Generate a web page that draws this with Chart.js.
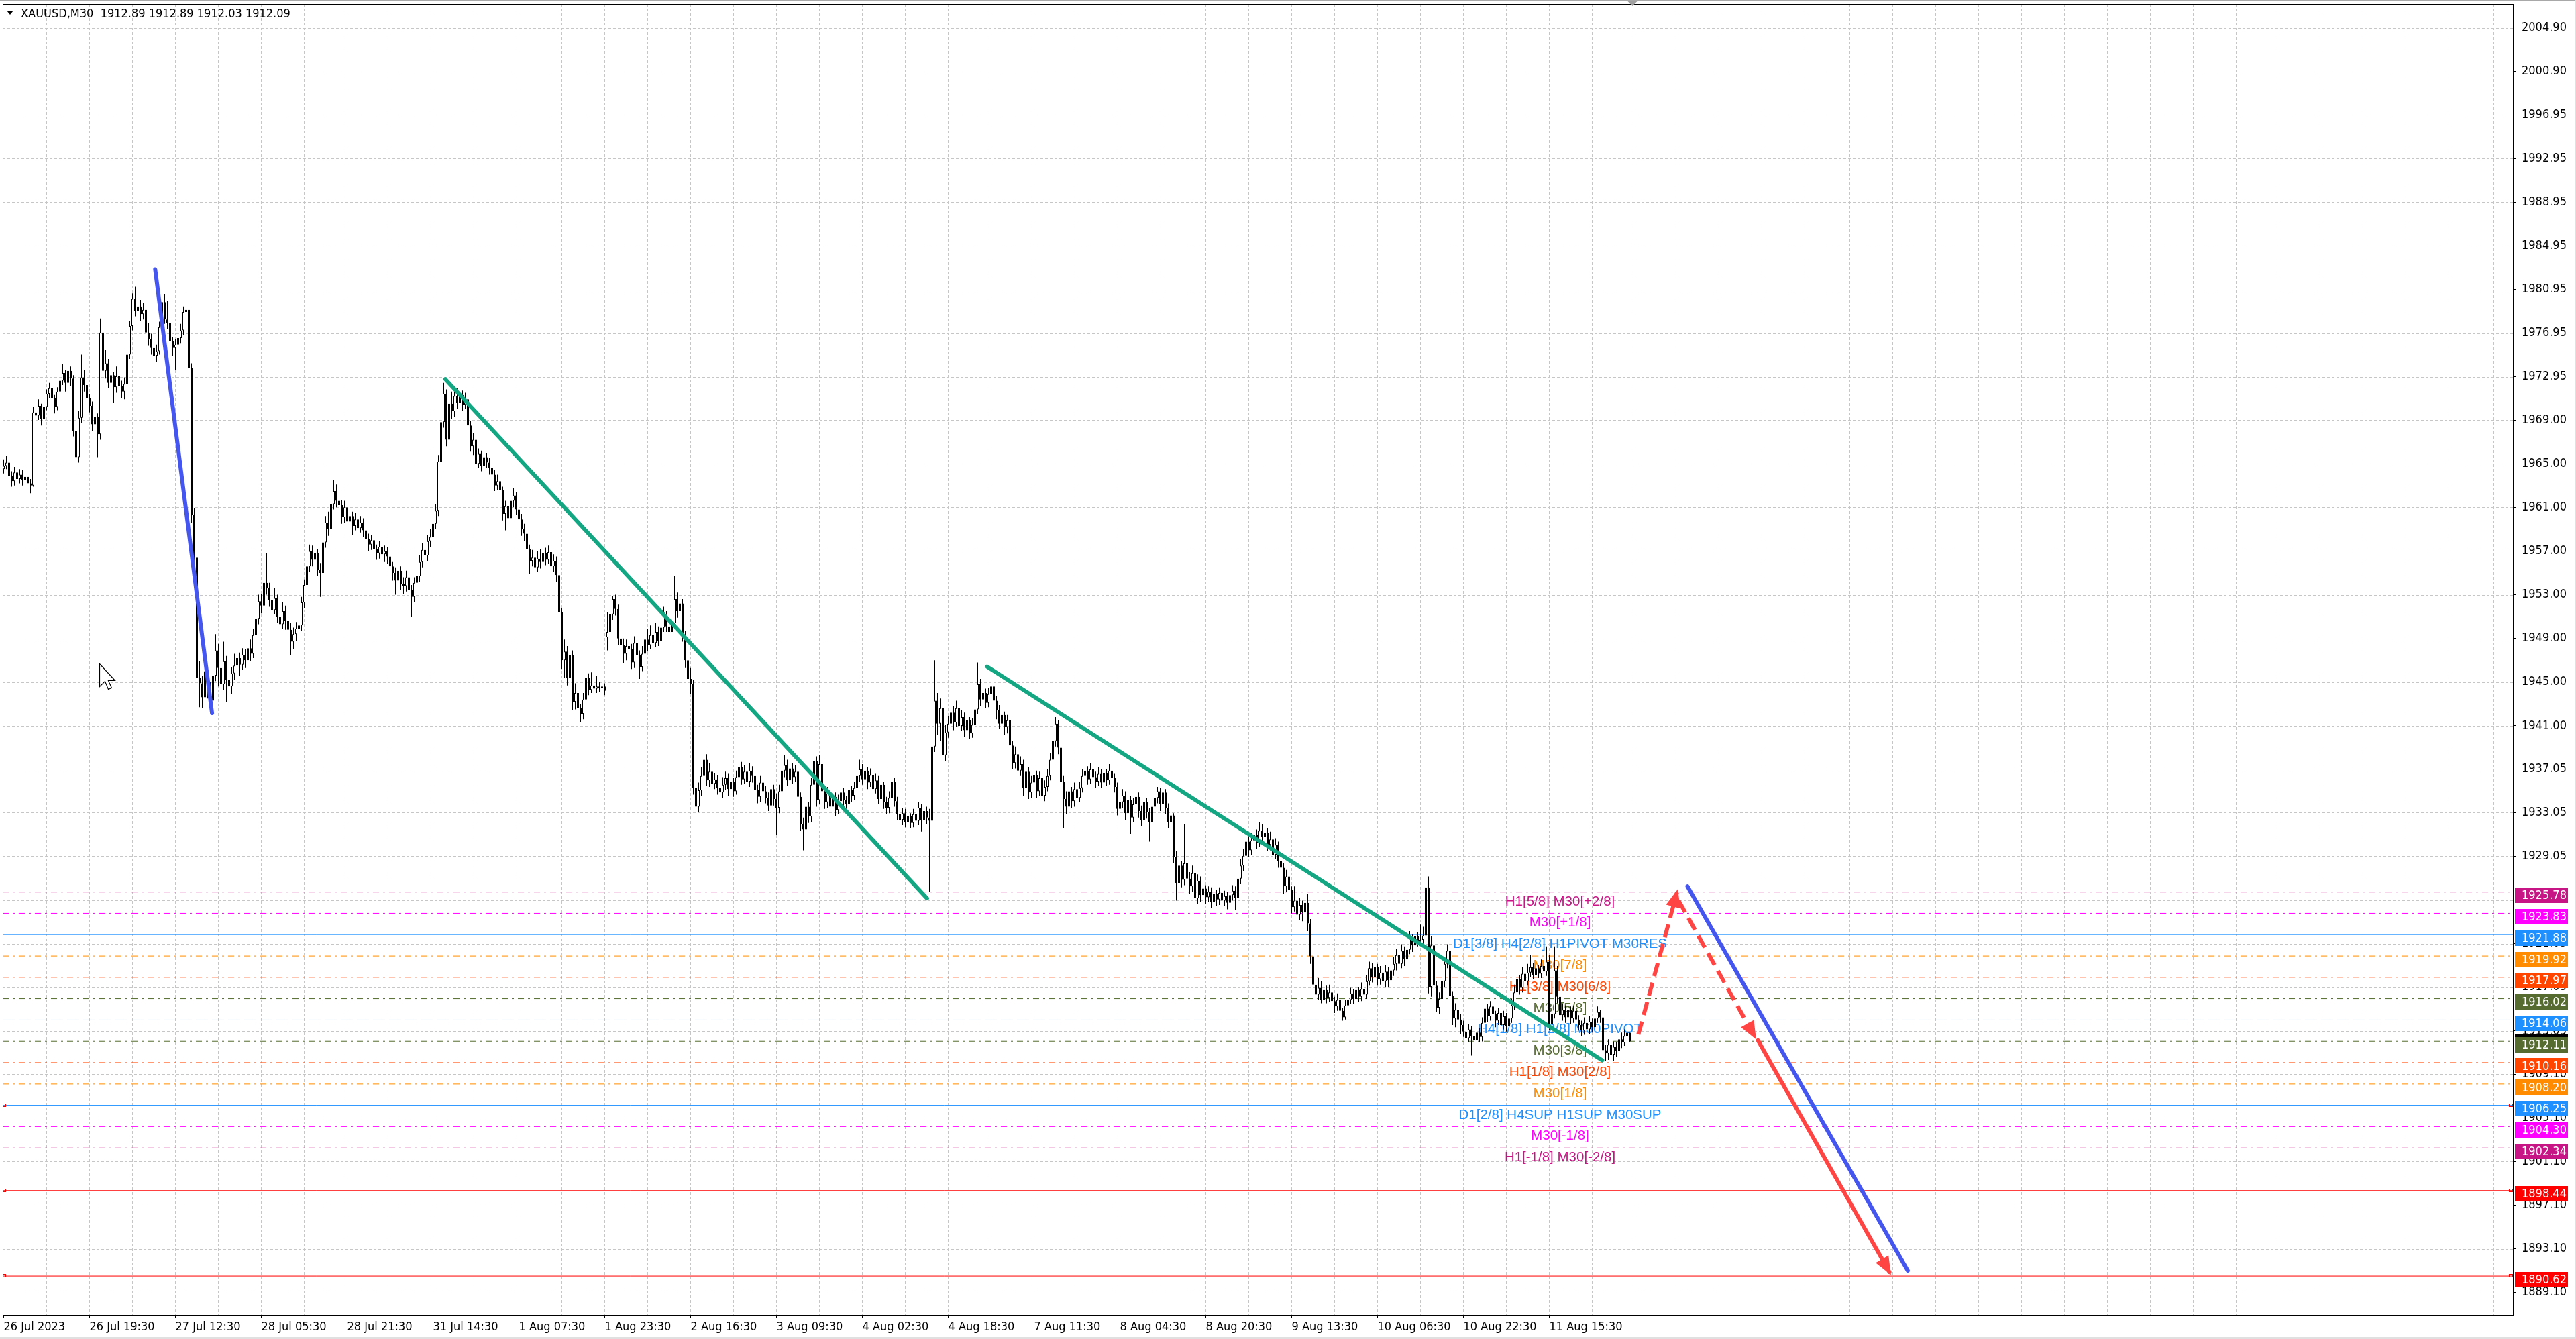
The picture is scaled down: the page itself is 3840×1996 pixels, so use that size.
<!DOCTYPE html>
<html>
<head>
<meta charset="utf-8">
<title>XAUUSD,M30</title>
<script src="https://cdn.jsdelivr.net/npm/chart.js@4.4.1/dist/chart.umd.min.js"></script>
<style>
html,body{margin:0;padding:0;background:#fff;overflow:hidden}
#wrap{position:relative;width:3840px;height:1996px}
canvas{display:block}
</style>
</head>
<body>
<div id="wrap"><canvas id="c" width="3840" height="1996" style="width:3840px;height:1996px"></canvas></div>
<script>
// ---------------- DATA ----------------
const headerText = "XAUUSD,M30  1912.89 1912.89 1912.03 1912.09";
const lastBid = 1912.09;

const timeLabels = ["26 Jul 2023","26 Jul 19:30","27 Jul 12:30","28 Jul 05:30","28 Jul 21:30","31 Jul 14:30","1 Aug 07:30","1 Aug 23:30","2 Aug 16:30","3 Aug 09:30","4 Aug 02:30","4 Aug 18:30","7 Aug 11:30","8 Aug 04:30","8 Aug 20:30","9 Aug 13:30","10 Aug 06:30","10 Aug 22:30","11 Aug 15:30"];
const timeLabelBars = [0,32,64,96,128,160,192,224,256,288,320,352,384,416,448,480,512,544,576];

const priceTicks = [2004.90,2000.90,1996.95,1992.95,1988.95,1984.95,1980.95,1976.95,1972.95,1969.00,1965.00,1961.00,1957.00,1953.00,1949.00,1945.00,1941.00,1937.05,1933.05,1929.05,1925.05,1921.05,1917.05,1913.05,1909.10,1905.10,1901.10,1897.10,1893.10,1889.10];

const opens = [
1964.5,1964.8,1965.1,1963.9,1963.4,1964.2,1963.6,1964.0,1963.5,1963.8,
1963.2,1963.0,1969.7,1969.4,1970.3,1969.1,1970.2,1971.4,1971.9,1971.0,
1970.2,1971.6,1972.6,1973.3,1972.4,1973.5,1972.8,1968.0,1965.6,1969.2,
1972.9,1972.2,1971.0,1970.3,1968.6,1969.3,1967.7,1977.0,1973.5,1974.2,
1972.4,1973.1,1972.0,1973.0,1972.1,1971.6,1972.3,1975.0,1977.6,1980.1,
1979.0,1979.4,1978.7,1979.1,1977.0,1976.4,1975.6,1974.9,1975.3,1977.5,
1979.8,1978.2,1977.9,1976.2,1975.6,1975.9,1976.5,1977.2,1978.9,1979.1,
1973.8,1960.3,1956.4,1945.4,1944.9,1943.6,1946.0,1944.2,1943.3,1945.6,
1947.9,1946.3,1944.8,1946.9,1945.2,1944.6,1945.8,1946.5,1947.2,1946.6,
1947.5,1947.0,1948.1,1947.6,1949.3,1950.8,1952.4,1952.0,1954.1,1953.6,
1952.5,1951.6,1952.7,1951.0,1950.3,1951.5,1950.6,1949.8,1948.7,1949.4,
1949.9,1950.2,1952.3,1953.9,1955.6,1957.0,1956.2,1956.8,1955.3,1955.0,
1957.8,1959.6,1959.0,1961.3,1962.5,1961.6,1961.2,1960.1,1961.0,1959.7,
1960.2,1959.3,1959.9,1959.1,1959.6,1958.9,1958.1,1957.6,1958.0,1957.2,
1956.8,1957.4,1956.7,1957.0,1956.5,1955.6,1955.0,1954.3,1955.2,1954.0,
1953.8,1954.6,1953.4,1952.8,1954.1,1954.7,1956.0,1957.1,1956.6,1957.9,
1958.3,1959.5,1960.7,1965.2,1968.8,1971.4,1967.2,1970.5,1969.8,1971.2,
1970.6,1971.3,1970.4,1970.9,1968.5,1966.6,1967.2,1965.0,1965.9,1964.8,
1965.6,1965.1,1964.6,1964.0,1963.0,1963.4,1962.6,1960.4,1961.1,1960.0,
1961.6,1962.1,1960.8,1959.9,1959.0,1958.6,1957.2,1956.1,1956.4,1955.5,
1956.3,1956.0,1956.8,1956.2,1956.9,1955.6,1956.1,1954.8,1951.4,1947.0,
1947.8,1945.4,1947.5,1943.2,1944.0,1942.6,1942.1,1943.4,1945.4,1944.3,
1944.7,1944.4,1944.6,1944.5,1944.6,1949.1,1949.6,1951.2,1952.6,1951.7,
1949.0,1948.4,1947.6,1948.3,1948.0,1946.8,1948.6,1947.5,1946.4,1947.6,
1948.9,1948.4,1949.3,1948.6,1949.6,1948.8,1950.0,1951.2,1950.1,1949.6,
1950.4,1952.6,1951.5,1952.2,1949.3,1947.0,1945.3,1944.8,1935.3,1933.6,
1935.1,1936.4,1937.9,1936.0,1936.8,1935.7,1936.1,1935.3,1934.9,1935.6,
1936.2,1935.2,1935.9,1935.0,1936.3,1937.2,1936.1,1936.8,1935.9,1936.9,
1936.4,1935.1,1934.5,1935.8,1935.0,1934.4,1933.7,1935.2,1934.3,1933.5,
1935.0,1936.9,1937.4,1936.0,1937.1,1936.3,1936.8,1934.5,1932.0,1931.5,
1933.6,1932.7,1935.6,1937.8,1934.2,1937.5,1935.0,1934.0,1934.8,1933.6,
1934.5,1933.3,1934.1,1934.9,1934.2,1933.8,1935.1,1934.6,1935.3,1936.4,
1937.0,1936.1,1936.9,1935.8,1936.5,1935.2,1936.0,1934.3,1935.6,1934.0,
1933.5,1934.4,1935.9,1934.1,1932.9,1932.4,1933.0,1932.2,1932.7,1932.1,
1932.9,1932.3,1933.5,1932.4,1933.2,1932.6,1932.3,1939.1,1943.3,1941.2,
1942.6,1938.3,1940.4,1941.2,1942.2,1941.3,1942.6,1941.0,1941.8,1940.6,
1941.5,1940.3,1941.1,1942.5,1944.8,1943.4,1944.0,1943.1,1943.9,1944.6,
1943.3,1942.4,1941.2,1942.0,1940.9,1941.5,1939.2,1937.6,1938.4,1936.9,
1937.5,1935.3,1936.8,1934.9,1935.8,1936.5,1935.0,1936.2,1934.6,1935.4,
1936.4,1937.9,1939.6,1941.2,1939.0,1935.9,1934.3,1933.6,1935.0,1934.1,
1935.2,1934.4,1935.3,1936.4,1936.9,1936.1,1937.0,1936.3,1935.9,1936.6,
1935.8,1936.7,1936.0,1936.9,1936.2,1935.4,1933.4,1934.0,1934.6,1933.0,
1934.2,1932.6,1933.8,1934.5,1933.2,1932.4,1934.0,1933.1,1932.2,1933.6,
1934.4,1935.0,1933.8,1934.9,1933.5,1932.2,1932.8,1929.0,1926.6,1928.2,
1926.9,1928.4,1927.0,1926.3,1927.5,1925.2,1926.8,1925.5,1926.1,1925.3,
1925.8,1924.9,1925.6,1925.1,1925.7,1925.0,1925.4,1924.8,1925.5,1925.9,
1925.2,1927.0,1928.2,1929.1,1930.4,1929.6,1930.5,1931.0,1930.3,1931.4,
1930.8,1931.2,1930.1,1930.6,1929.2,1930.1,1928.6,1928.0,1926.3,1927.2,
1926.0,1924.4,1925.0,1923.7,1924.6,1923.9,1924.8,1922.9,1919.9,1917.3,
1916.4,1917.0,1915.9,1916.8,1916.1,1916.6,1915.8,1915.3,1915.9,1914.9,
1914.3,1915.4,1915.9,1916.5,1916.0,1916.8,1916.2,1916.9,1916.4,1917.6,
1918.8,1918.0,1918.9,1917.8,1918.4,1917.6,1918.5,1917.7,1918.6,1919.2,
1920.0,1919.2,1920.4,1919.6,1920.5,1921.5,1920.9,1921.7,1921.2,1921.4,
1921.8,1926.2,1917.1,1920.9,1917.2,1915.2,1916.0,1917.6,1919.2,1920.4,
1916.3,1914.2,1915.0,1914.1,1913.6,1913.0,1912.4,1913.2,1912.6,1912.2,
1912.9,1912.5,1913.8,1915.1,1914.4,1915.3,1914.6,1914.0,1914.7,1913.6,
1914.4,1913.5,1914.2,1915.4,1916.6,1917.8,1917.0,1918.3,1917.6,1918.4,
1918.9,1918.2,1918.8,1918.3,1919.0,1918.5,1919.4,1913.7,1914.6,1918.6,
1916.2,1914.5,1915.0,1914.3,1915.0,1914.2,1914.9,1914.1,1913.6,1913.1,
1913.8,1913.2,1913.9,1913.4,1914.2,1914.8,1914.3,1911.3,1911.0,1911.8,
1910.9,1911.6,1911.2,1912.3,1912.0,1912.6,1912.89];

const highs = [
1965.4,1965.7,1965.3,1964.3,1964.7,1964.6,1964.5,1964.4,1964.2,1964.0,
1963.6,1970.2,1970.1,1970.9,1970.5,1970.8,1971.8,1972.4,1972.1,1971.3,
1972.0,1973.2,1974.1,1973.6,1974.0,1973.9,1973.1,1968.4,1969.8,1975.0,
1973.6,1972.6,1971.4,1970.7,1969.9,1969.6,1978.3,1977.5,1975.4,1974.6,
1973.9,1973.4,1973.9,1973.5,1972.6,1972.9,1975.6,1978.1,1980.6,1981.2,
1982.2,1980.0,1979.7,1979.4,1977.9,1976.9,1976.1,1975.9,1978.0,1982.1,
1980.5,1979.9,1978.3,1976.6,1976.4,1977.1,1977.8,1979.4,1979.5,1979.3,
1974.2,1960.9,1956.8,1946.9,1945.6,1947.4,1946.5,1945.0,1948.0,1949.4,
1948.5,1946.8,1948.7,1947.4,1945.9,1946.4,1947.6,1947.9,1947.7,1948.1,
1948.0,1948.8,1948.9,1949.9,1951.5,1953.0,1953.1,1955.0,1956.8,1954.1,
1952.9,1953.6,1953.0,1951.7,1952.3,1952.0,1951.1,1950.4,1950.0,1950.5,
1950.9,1952.8,1954.4,1956.2,1957.6,1957.5,1958.3,1957.2,1955.9,1958.3,
1960.2,1960.6,1961.9,1963.5,1963.1,1962.4,1961.7,1961.6,1961.4,1960.9,
1960.6,1960.5,1960.3,1960.2,1960.0,1959.3,1958.6,1958.5,1958.4,1957.6,
1957.9,1957.8,1957.5,1957.4,1956.9,1956.0,1955.5,1955.7,1955.6,1954.6,
1955.2,1954.9,1953.9,1954.6,1955.4,1956.6,1957.7,1957.6,1958.5,1959.0,
1960.1,1961.3,1965.8,1969.4,1972.4,1971.8,1971.2,1971.6,1972.0,1971.9,
1972.0,1971.7,1971.5,1971.2,1968.9,1967.8,1967.5,1966.4,1966.2,1966.1,
1966.0,1965.5,1965.1,1964.4,1964.0,1963.8,1962.9,1961.6,1961.5,1962.2,
1962.8,1962.4,1961.2,1960.4,1959.5,1958.9,1957.6,1957.1,1956.9,1957.0,
1957.2,1957.6,1957.3,1957.5,1957.2,1956.7,1956.5,1955.2,1951.8,1948.9,
1948.3,1953.8,1947.9,1944.9,1944.4,1943.0,1944.0,1946.0,1945.8,1945.9,
1945.3,1945.6,1945.0,1945.1,1944.9,1951.4,1951.8,1952.9,1953.0,1952.1,
1949.7,1949.0,1948.9,1949.0,1948.5,1949.2,1949.0,1947.9,1948.3,1949.5,
1949.9,1950.2,1949.8,1950.4,1950.1,1950.6,1951.9,1951.5,1950.6,1951.0,
1954.7,1953.2,1952.9,1952.6,1949.7,1947.5,1946.3,1945.2,1936.0,1935.8,
1937.2,1939.0,1938.4,1937.6,1937.3,1936.7,1936.5,1935.8,1936.3,1936.8,
1936.6,1936.5,1936.2,1936.9,1938.8,1937.7,1937.4,1937.2,1937.6,1937.3,
1936.9,1935.6,1936.4,1936.2,1935.5,1934.9,1935.8,1935.6,1934.8,1935.6,
1937.5,1938.3,1937.9,1937.8,1937.6,1937.4,1937.2,1934.9,1932.6,1934.2,
1934.0,1936.2,1938.6,1938.2,1938.3,1937.9,1935.5,1935.4,1935.2,1935.1,
1934.9,1934.7,1935.5,1935.3,1934.6,1935.7,1935.5,1935.9,1937.0,1937.9,
1937.5,1937.5,1937.2,1937.1,1936.9,1936.6,1936.4,1936.2,1935.9,1934.5,
1935.0,1936.4,1936.2,1934.5,1933.4,1933.5,1933.4,1933.2,1933.0,1933.4,
1933.3,1934.0,1933.8,1933.7,1933.6,1933.4,1942.0,1947.0,1944.0,1943.5,
1942.9,1941.1,1941.9,1943.5,1942.8,1943.3,1942.9,1942.4,1942.2,1942.0,
1941.8,1941.7,1943.0,1946.8,1945.3,1944.7,1944.4,1944.5,1945.2,1944.9,
1943.7,1942.9,1942.6,1942.3,1942.0,1941.8,1939.6,1939.1,1938.8,1938.2,
1937.9,1937.4,1937.2,1936.4,1937.1,1936.9,1936.8,1936.6,1936.0,1937.0,
1938.5,1940.2,1941.8,1941.5,1939.4,1936.4,1935.0,1935.6,1935.4,1935.8,
1935.6,1935.9,1937.0,1937.6,1937.3,1937.6,1937.4,1936.8,1937.2,1937.0,
1937.3,1937.0,1937.5,1937.3,1936.6,1935.8,1934.6,1935.2,1935.0,1934.8,
1934.6,1934.4,1935.1,1934.9,1933.7,1934.6,1934.4,1933.5,1934.2,1935.0,
1935.4,1935.3,1935.4,1935.2,1933.9,1933.3,1933.0,1929.5,1928.9,1928.6,
1932.0,1928.9,1927.6,1928.2,1927.9,1927.4,1927.2,1926.7,1926.4,1926.3,
1926.2,1926.1,1926.0,1926.2,1926.1,1925.9,1925.8,1926.0,1926.4,1926.3,
1927.6,1928.8,1929.7,1931.0,1930.9,1931.2,1931.8,1931.5,1932.2,1932.0,
1931.9,1931.6,1931.3,1931.0,1930.7,1930.4,1929.1,1928.4,1927.8,1927.6,
1926.3,1926.3,1925.4,1925.2,1925.0,1925.4,1925.6,1923.3,1920.4,1918.1,
1917.9,1917.6,1917.4,1917.2,1917.3,1917.0,1916.2,1916.5,1916.2,1915.2,
1915.9,1916.4,1917.0,1916.9,1917.3,1917.1,1917.5,1917.3,1918.2,1919.4,
1919.3,1919.5,1919.2,1919.0,1918.8,1919.1,1918.9,1919.2,1919.8,1920.6,
1920.5,1921.0,1920.8,1921.1,1922.2,1921.9,1922.4,1922.1,1922.8,1922.6,
1930.1,1927.2,1921.7,1922.9,1917.6,1916.6,1918.2,1919.8,1921.0,1920.8,
1916.7,1915.6,1915.4,1914.6,1914.0,1913.4,1913.7,1913.5,1913.0,1913.4,
1913.3,1914.3,1915.7,1915.5,1915.8,1915.6,1914.9,1915.2,1915.0,1914.9,
1914.7,1914.8,1916.0,1917.3,1918.6,1918.2,1918.9,1918.7,1919.2,1920.0,
1919.3,1919.4,1919.1,1919.6,1919.4,1920.8,1920.0,1915.3,1920.8,1919.0,
1916.6,1915.6,1915.4,1915.5,1915.3,1915.4,1915.2,1914.5,1914.0,1914.3,
1914.1,1914.4,1914.2,1915.2,1915.3,1915.0,1914.6,1911.8,1912.3,1912.2,
1912.1,1912.0,1912.8,1912.9,1913.2,1913.3,1912.89];

const lows = [
1964.1,1964.5,1963.5,1962.9,1963.0,1962.4,1963.2,1963.0,1963.1,1962.5,
1962.3,1962.9,1968.8,1969.0,1968.5,1968.9,1969.9,1971.0,1970.6,1969.6,
1969.9,1971.2,1972.2,1971.6,1972.0,1972.1,1967.5,1963.9,1965.1,1968.7,
1971.6,1970.4,1969.7,1968.0,1967.9,1965.6,1967.2,1972.9,1972.8,1971.9,
1971.8,1970.6,1971.5,1971.6,1971.0,1970.9,1971.9,1974.6,1977.2,1978.5,
1978.7,1978.1,1978.2,1976.5,1975.8,1975.0,1973.8,1974.3,1975.0,1977.1,
1977.8,1977.3,1975.7,1974.9,1973.6,1975.4,1976.0,1976.8,1978.2,1972.9,
1959.6,1955.7,1943.9,1942.7,1942.6,1943.1,1943.5,1942.7,1942.9,1945.1,
1944.6,1944.1,1944.3,1943.2,1943.7,1943.9,1945.2,1945.9,1945.6,1946.1,
1946.3,1946.6,1946.9,1947.2,1948.9,1950.3,1951.3,1951.6,1953.0,1951.9,
1950.7,1951.2,1950.4,1949.5,1949.9,1949.8,1948.9,1947.5,1948.0,1948.8,
1949.3,1949.7,1951.8,1953.3,1955.1,1955.6,1955.8,1954.7,1952.8,1954.6,
1957.3,1958.4,1958.6,1960.8,1961.0,1960.4,1959.5,1959.6,1959.0,1959.2,
1958.5,1958.9,1958.6,1958.7,1958.3,1957.6,1957.0,1957.1,1956.7,1956.2,
1956.3,1956.1,1956.0,1955.8,1955.0,1954.3,1953.0,1953.9,1953.4,1953.1,
1953.3,1952.7,1951.0,1952.3,1953.6,1954.2,1955.5,1955.9,1956.1,1957.4,
1957.6,1959.0,1960.2,1964.6,1968.3,1966.6,1966.8,1969.1,1969.3,1970.0,
1970.1,1969.8,1970.0,1967.9,1966.1,1965.8,1964.4,1964.6,1964.3,1964.4,
1964.6,1964.0,1963.4,1962.5,1962.6,1961.9,1959.8,1958.9,1959.4,1959.6,
1961.0,1960.3,1959.3,1958.4,1957.9,1956.7,1954.9,1955.6,1954.8,1955.1,
1955.4,1955.5,1955.7,1955.8,1955.0,1955.1,1954.2,1950.9,1946.2,1945.4,
1944.7,1945.0,1942.4,1942.5,1941.8,1941.3,1941.6,1943.0,1943.8,1944.0,
1943.9,1944.0,1944.1,1944.1,1943.8,1947.9,1949.0,1950.7,1951.1,1948.4,
1947.6,1946.7,1947.0,1947.3,1946.2,1946.3,1946.9,1945.3,1946.0,1947.2,
1947.8,1948.0,1947.9,1948.2,1948.3,1948.4,1949.6,1949.6,1948.9,1949.2,
1950.0,1950.9,1950.6,1948.7,1946.3,1944.1,1943.9,1934.7,1932.9,1933.1,
1934.6,1935.9,1935.5,1935.4,1935.1,1935.2,1934.7,1934.2,1934.4,1935.1,
1934.6,1934.8,1934.5,1934.7,1935.9,1935.6,1935.7,1935.3,1935.4,1935.8,
1934.6,1933.9,1934.0,1934.4,1933.9,1933.2,1933.3,1933.7,1931.0,1933.0,
1934.6,1936.3,1935.5,1935.6,1935.7,1935.9,1934.0,1931.4,1929.6,1930.9,
1932.1,1932.2,1935.1,1933.6,1933.8,1934.4,1933.4,1933.5,1933.0,1933.1,
1932.7,1932.9,1933.7,1933.7,1933.2,1933.4,1934.0,1934.2,1934.9,1935.9,
1935.6,1935.7,1935.2,1935.4,1934.7,1934.8,1933.8,1933.9,1933.4,1932.9,
1933.0,1934.0,1933.6,1932.4,1931.9,1931.9,1931.7,1931.8,1931.6,1931.7,
1931.8,1931.9,1931.3,1931.9,1932.0,1925.8,1931.8,1938.6,1940.2,1939.6,
1937.7,1937.8,1939.9,1940.7,1940.6,1940.9,1940.4,1940.5,1940.0,1940.1,
1939.8,1939.9,1940.7,1942.1,1942.8,1942.8,1942.6,1942.7,1943.5,1942.8,
1941.6,1940.7,1940.6,1940.2,1940.3,1938.6,1937.0,1937.1,1936.4,1936.4,
1934.6,1934.9,1934.3,1934.4,1935.2,1934.4,1934.6,1933.9,1934.1,1935.0,
1936.0,1937.5,1939.1,1938.4,1935.2,1931.6,1932.9,1933.1,1933.5,1933.6,
1933.9,1934.0,1934.9,1935.9,1935.6,1935.7,1935.8,1935.3,1935.5,1935.3,
1935.4,1935.5,1935.6,1935.7,1934.9,1932.8,1932.9,1933.5,1932.4,1932.6,
1931.1,1932.2,1933.3,1932.6,1931.8,1931.9,1932.5,1930.4,1931.7,1933.1,
1933.9,1933.2,1933.3,1932.9,1931.6,1931.7,1928.4,1925.0,1926.0,1926.2,
1926.4,1926.3,1925.6,1925.8,1923.6,1924.7,1924.9,1925.0,1924.7,1924.9,
1924.3,1924.4,1924.5,1924.6,1924.4,1924.5,1924.2,1924.3,1925.0,1924.1,
1924.8,1926.5,1927.7,1928.6,1929.0,1929.2,1930.0,1929.7,1929.9,1930.2,
1930.3,1929.5,1929.6,1928.6,1928.8,1928.0,1927.3,1925.6,1925.8,1925.3,
1923.8,1924.0,1923.2,1923.2,1923.1,1923.4,1922.2,1919.2,1916.7,1915.6,
1915.9,1915.6,1915.6,1915.6,1915.7,1915.3,1914.7,1914.9,1914.4,1914.0,
1914.1,1915.0,1915.5,1915.5,1915.6,1915.7,1915.8,1915.9,1916.0,1917.2,
1917.5,1917.6,1917.2,1917.3,1916.2,1917.1,1917.1,1917.3,1918.1,1918.6,
1918.6,1918.8,1919.0,1919.2,1920.1,1920.3,1920.5,1920.8,1920.9,1921.0,
1921.4,1916.5,1916.2,1916.7,1914.8,1914.6,1915.6,1917.1,1918.8,1915.6,
1913.6,1913.4,1913.6,1912.8,1912.5,1911.7,1912.0,1910.8,1911.7,1911.8,
1912.0,1912.1,1913.4,1913.9,1914.0,1914.1,1913.4,1913.6,1913.1,1913.2,
1913.0,1913.1,1913.8,1915.0,1916.2,1916.4,1916.6,1917.1,1917.2,1918.0,
1917.8,1917.9,1917.9,1917.9,1918.0,1918.1,1913.1,1913.2,1914.2,1915.6,
1913.9,1914.0,1913.8,1913.9,1913.7,1913.8,1913.5,1913.1,1912.6,1912.7,
1912.6,1912.8,1912.9,1913.0,1913.8,1913.8,1910.8,1910.3,1910.4,1910.06,
1910.3,1910.7,1910.9,1911.5,1911.7,1912.2,1912.03];

const closes = [
1964.8,1965.1,1963.9,1963.4,1964.2,1963.6,1964.0,1963.5,1963.8,1963.2,
1963.0,1969.7,1969.4,1970.3,1969.1,1970.2,1971.4,1971.9,1971.0,1970.2,
1971.6,1972.6,1973.3,1972.4,1973.5,1972.8,1968.0,1965.6,1969.2,1972.9,
1972.2,1971.0,1970.3,1968.6,1969.3,1967.7,1977.0,1973.5,1974.2,1972.4,
1973.1,1972.0,1973.0,1972.1,1971.6,1972.3,1975.0,1977.6,1980.1,1979.0,
1979.4,1978.7,1979.1,1977.0,1976.4,1975.6,1974.9,1975.3,1977.5,1979.8,
1978.2,1977.9,1976.2,1975.6,1975.9,1976.5,1977.2,1978.9,1979.1,1973.8,
1960.3,1956.4,1945.4,1944.9,1943.6,1946.0,1944.2,1943.3,1945.6,1947.9,
1946.3,1944.8,1946.9,1945.2,1944.6,1945.8,1946.5,1947.2,1946.6,1947.5,
1947.0,1948.1,1947.6,1949.3,1950.8,1952.4,1952.0,1954.1,1953.6,1952.5,
1951.6,1952.7,1951.0,1950.3,1951.5,1950.6,1949.8,1948.7,1949.4,1949.9,
1950.2,1952.3,1953.9,1955.6,1957.0,1956.2,1956.8,1955.3,1955.0,1957.8,
1959.6,1959.0,1961.3,1962.5,1961.6,1961.2,1960.1,1961.0,1959.7,1960.2,
1959.3,1959.9,1959.1,1959.6,1958.9,1958.1,1957.6,1958.0,1957.2,1956.8,
1957.4,1956.7,1957.0,1956.5,1955.6,1955.0,1954.3,1955.2,1954.0,1953.8,
1954.6,1953.4,1952.8,1954.1,1954.7,1956.0,1957.1,1956.6,1957.9,1958.3,
1959.5,1960.7,1965.2,1968.8,1971.4,1967.2,1970.5,1969.8,1971.2,1970.6,
1971.3,1970.4,1970.9,1968.5,1966.6,1967.2,1965.0,1965.9,1964.8,1965.6,
1965.1,1964.6,1964.0,1963.0,1963.4,1962.6,1960.4,1961.1,1960.0,1961.6,
1962.1,1960.8,1959.9,1959.0,1958.6,1957.2,1956.1,1956.4,1955.5,1956.3,
1956.0,1956.8,1956.2,1956.9,1955.6,1956.1,1954.8,1951.4,1947.0,1947.8,
1945.4,1947.5,1943.2,1944.0,1942.6,1942.1,1943.4,1945.4,1944.3,1944.7,
1944.4,1944.6,1944.5,1944.6,1944.2,1949.6,1951.2,1952.6,1951.7,1949.0,
1948.4,1947.6,1948.3,1948.0,1946.8,1948.6,1947.5,1946.4,1947.6,1948.9,
1948.4,1949.3,1948.6,1949.6,1948.8,1950.0,1951.2,1950.1,1949.6,1950.4,
1952.6,1951.5,1952.2,1949.3,1947.0,1945.3,1944.8,1935.3,1933.6,1935.1,
1936.4,1937.9,1936.0,1936.8,1935.7,1936.1,1935.3,1934.9,1935.6,1936.2,
1935.2,1935.9,1935.0,1936.3,1937.2,1936.1,1936.8,1935.9,1936.9,1936.4,
1935.1,1934.5,1935.8,1935.0,1934.4,1933.7,1935.2,1934.3,1933.5,1935.0,
1936.9,1937.4,1936.0,1937.1,1936.3,1936.8,1934.5,1932.0,1931.5,1933.6,
1932.7,1935.6,1937.8,1934.2,1937.5,1935.0,1934.0,1934.8,1933.6,1934.5,
1933.3,1934.1,1934.9,1934.2,1933.8,1935.1,1934.6,1935.3,1936.4,1937.0,
1936.1,1936.9,1935.8,1936.5,1935.2,1936.0,1934.3,1935.6,1934.0,1933.5,
1934.4,1935.9,1934.1,1932.9,1932.4,1933.0,1932.2,1932.7,1932.1,1932.9,
1932.3,1933.5,1932.4,1933.2,1932.6,1932.3,1939.1,1943.3,1941.2,1942.6,
1938.3,1940.4,1941.2,1942.2,1941.3,1942.6,1941.0,1941.8,1940.6,1941.5,
1940.3,1941.1,1942.5,1944.8,1943.4,1944.0,1943.1,1943.9,1944.6,1943.3,
1942.4,1941.2,1942.0,1940.9,1941.5,1939.2,1937.6,1938.4,1936.9,1937.5,
1935.3,1936.8,1934.9,1935.8,1936.5,1935.0,1936.2,1934.6,1935.4,1936.4,
1937.9,1939.6,1941.2,1939.0,1935.9,1934.3,1933.6,1935.0,1934.1,1935.2,
1934.4,1935.3,1936.4,1936.9,1936.1,1937.0,1936.3,1935.9,1936.6,1935.8,
1936.7,1936.0,1936.9,1936.2,1935.4,1933.4,1934.0,1934.6,1933.0,1934.2,
1932.6,1933.8,1934.5,1933.2,1932.4,1934.0,1933.1,1932.2,1933.6,1934.4,
1935.0,1933.8,1934.9,1933.5,1932.2,1932.8,1929.0,1926.6,1928.2,1926.9,
1928.4,1927.0,1926.3,1927.5,1925.2,1926.8,1925.5,1926.1,1925.3,1925.8,
1924.9,1925.6,1925.1,1925.7,1925.0,1925.4,1924.8,1925.5,1925.9,1925.2,
1927.0,1928.2,1929.1,1930.4,1929.6,1930.5,1931.0,1930.3,1931.4,1930.8,
1931.2,1930.1,1930.6,1929.2,1930.1,1928.6,1928.0,1926.3,1927.2,1926.0,
1924.4,1925.0,1923.7,1924.6,1923.9,1924.8,1922.9,1919.9,1917.3,1916.4,
1917.0,1915.9,1916.8,1916.1,1916.6,1915.8,1915.3,1915.9,1914.9,1914.3,
1915.4,1915.9,1916.5,1916.0,1916.8,1916.2,1916.9,1916.4,1917.6,1918.8,
1918.0,1918.9,1917.8,1918.4,1917.6,1918.5,1917.7,1918.6,1919.2,1920.0,
1919.2,1920.4,1919.6,1920.5,1921.5,1920.9,1921.7,1921.2,1921.4,1921.8,
1926.2,1917.1,1920.9,1917.2,1915.2,1916.0,1917.6,1919.2,1920.4,1916.3,
1914.2,1915.0,1914.1,1913.6,1913.0,1912.4,1913.2,1912.6,1912.2,1912.9,
1912.5,1913.8,1915.1,1914.4,1915.3,1914.6,1914.0,1914.7,1913.6,1914.4,
1913.5,1914.2,1915.4,1916.6,1917.8,1917.0,1918.3,1917.6,1918.4,1918.9,
1918.2,1918.8,1918.3,1919.0,1918.5,1919.4,1913.7,1914.6,1918.6,1916.2,
1914.5,1915.0,1914.3,1915.0,1914.2,1914.9,1914.1,1913.6,1913.1,1913.8,
1913.2,1913.9,1913.4,1914.2,1914.8,1914.3,1911.3,1911.0,1911.8,1910.9,
1911.6,1911.2,1912.3,1912.0,1912.6,1912.89,1912.09];

// Murrey-math style levels
const levelPrices = [1925.78,1923.83,1921.88,1919.92,1917.97,1916.02,1914.06,1912.11,1910.16,1908.20,1906.25,1904.30,1902.34,1898.44,1890.62];
const levelNames = ["H1[5/8] M30[+2/8]","M30[+1/8]","D1[3/8] H4[2/8] H1PIVOT M30RES","M30[7/8]","H1[3/8] M30[6/8]","M30[5/8]","H4[1/8] H1[2/8] M30PIVOT","M30[3/8]","H1[1/8] M30[2/8]","M30[1/8]","D1[2/8] H4SUP H1SUP M30SUP","M30[-1/8]","H1[-1/8] M30[-2/8]","",""];
const levelTextBar = 580;

// hand-drawn lines [bar, price]
const blueLineA   = [[56.45,1982.8],[77.65,1942.16]];
const greenLineA  = [[164.6,1972.74],[344.1,1925.2]];
const greenLineB  = [[366.5,1946.42],[595.7,1910.37]];
const blueLineB   = [[627.5,1926.3],[709.6,1891.12]];
const redArrowUp  = [[609.2,1912.74],[623.6,1925.75]];
const redArrowDn1 = [[624.2,1925.0],[652.5,1912.55]];
const redArrowDn2 = [[653.75,1912.2],[702.75,1890.99]];
const cursorAt    = [35.5,1946.7];

// ---------------- STYLE ----------------
const AXIS_FONT_FAMILY = '"DejaVu Sans Condensed","DejaVu Sans",sans-serif';
const AXIS_FONT_SIZE = 18;
const LEVEL_FONT = '20.5px "Liberation Sans", Arial, sans-serif';
const MVR = '#C71585', MAG = '#FF00FF', DBL = '#1E90FF', DOR = '#FF8C00', ORR = '#FF4500', OLV = '#556B2F', RED = '#FF0000';
const levelColors = [MVR,MAG,DBL,DOR,ORR,OLV,DBL,OLV,ORR,DOR,DBL,MAG,MVR,RED,RED];
const DASHDOT = [9,6,3,6], DASH = [18,6], SOLID = [];
const levelDash = [DASHDOT,DASHDOT,SOLID,DASHDOT,DASHDOT,DASHDOT,DASH,DASHDOT,DASHDOT,DASHDOT,SOLID,DASHDOT,DASHDOT,SOLID,SOLID];
const levelEndMarks = [false,false,false,false,false,false,false,false,false,false,true,false,false,true,true];
const GRID_COLOR = '#c6c6c6';
const BLUE = '#4556EE', GREEN = '#14A683', ARROW_RED = '#FF4444';
const X_MIN = -0.375, X_MAX = 935.375;
const Y_MIN = 1887.0, Y_MAX = 2007.09;

// ---------------- BUILD ----------------
const n = Math.min(opens.length, highs.length, lows.length, closes.length);
const wickData = [], bodyData = [], bodyColors = [];
for (let i = 0; i < n; i++) {
  wickData.push({x: i, y: [lows[i], highs[i]]});
  bodyData.push({x: i, y: [opens[i], closes[i]]});
  bodyColors.push(closes[i] >= opens[i] ? '#ffffff' : '#000000');
}
const toPts = arr => arr.map(p => ({x: p[0], y: p[1]}));

const datasets = [];
levelPrices.forEach((p, i) => {
  datasets.push({type: 'line', data: [{x: X_MIN, y: p}, {x: X_MAX, y: p}], borderColor: levelColors[i], borderWidth: 1,
    borderDash: levelDash[i], pointRadius: 0, fill: false, tension: 0, order: 30});
});
datasets.push({type: 'bar', data: wickData, backgroundColor: '#000', borderWidth: 0, barThickness: 1, grouped: false, inflateAmount: 0, order: 20});
datasets.push({type: 'bar', data: bodyData, backgroundColor: bodyColors, borderColor: '#000', borderWidth: 1, borderSkipped: false,
  barThickness: 3, minBarLength: 1, grouped: false, inflateAmount: 0, order: 19});
const lineDs = (pts, color, dash) => ({type: 'line', data: toPts(pts), borderColor: color, borderWidth: 6, borderDash: dash || [],
  borderCapStyle: dash ? 'butt' : 'round', pointRadius: 0, fill: false, tension: 0, order: 10});
datasets.push(lineDs(blueLineA, BLUE));
datasets.push(lineDs(greenLineA, GREEN));
datasets.push(lineDs(greenLineB, GREEN));
datasets.push(lineDs(blueLineB, BLUE));
datasets.push(lineDs(redArrowUp, ARROW_RED, [20, 10]));
datasets.push(lineDs(redArrowDn1, ARROW_RED, [20, 10]));
datasets.push(lineDs(redArrowDn2, ARROW_RED));

function drawHead(ctx, xs, ys, pts, color) {
  const x0 = xs.getPixelForValue(pts[0][0]), y0 = ys.getPixelForValue(pts[0][1]);
  const x1 = xs.getPixelForValue(pts[1][0]), y1 = ys.getPixelForValue(pts[1][1]);
  const dx = x1 - x0, dy = y1 - y0, len = Math.hypot(dx, dy), ux = dx / len, uy = dy / len;
  const tx = x1 + ux * 5, ty = y1 + uy * 5, L = 27, W = 11;
  const bx = tx - ux * L, by = ty - uy * L;
  ctx.fillStyle = color;
  ctx.beginPath();
  ctx.moveTo(tx, ty);
  ctx.lineTo(bx - uy * W, by + ux * W);
  ctx.lineTo(bx + uy * W, by - ux * W);
  ctx.closePath();
  ctx.fill();
}

const mt4Plugin = {
  id: 'mt4',
  beforeDatasetsDraw(chart) {
    const {ctx, chartArea: a, scales: {x, y}} = chart;
    ctx.save();
    ctx.strokeStyle = GRID_COLOR; ctx.lineWidth = 1; ctx.setLineDash([4, 3]);
    priceTicks.forEach(v => {
      const py = Math.round(y.getPixelForValue(v)) + 0.5;
      ctx.beginPath(); ctx.moveTo(a.left, py); ctx.lineTo(a.right, py); ctx.stroke();
    });
    for (let b = 16; b < X_MAX; b += 16) {
      const px = Math.floor(x.getPixelForValue(b)) + 0.5;
      ctx.beginPath(); ctx.moveTo(px, a.top); ctx.lineTo(px, a.bottom); ctx.stroke();
    }
    ctx.setLineDash([]);
    ctx.font = LEVEL_FONT; ctx.textAlign = 'center'; ctx.textBaseline = 'alphabetic';
    const tx = x.getPixelForValue(levelTextBar);
    levelNames.forEach((t, i) => {
      if (!t) return;
      ctx.fillStyle = levelColors[i];
      ctx.fillText(t, tx, y.getPixelForValue(levelPrices[i]) + 20);
    });
    ctx.restore();
  },
  afterDatasetsDraw(chart) {
    const {ctx, scales: {x, y}} = chart;
    ctx.save();
    drawHead(ctx, x, y, redArrowUp, ARROW_RED);
    drawHead(ctx, x, y, redArrowDn1, ARROW_RED);
    drawHead(ctx, x, y, redArrowDn2, ARROW_RED);
    ctx.strokeStyle = RED; ctx.lineWidth = 1;
    levelPrices.forEach((p, i) => {
      if (!levelEndMarks[i]) return;
      const py = Math.round(y.getPixelForValue(p));
      ctx.strokeRect(chart.chartArea.right - 6.5, py - 2.5, 5, 4);
      ctx.strokeRect(chart.chartArea.left + 0.5, py - 2.5, 4, 4);
    });
    const cx = Math.round(x.getPixelForValue(cursorAt[0])) + 0.5, cy = Math.round(y.getPixelForValue(cursorAt[1])) + 0.5;
    const cur = [[0,0],[0,34],[8,26],[13,38],[18,36],[13,25],[23,25]];
    ctx.beginPath();
    cur.forEach((p, k) => k ? ctx.lineTo(cx + p[0], cy + p[1]) : ctx.moveTo(cx + p[0], cy + p[1]));
    ctx.closePath();
    ctx.fillStyle = '#fff'; ctx.fill();
    ctx.strokeStyle = '#000'; ctx.lineWidth = 1.2; ctx.stroke();
    ctx.restore();
  },
  afterDraw(chart) {
    const {ctx, chartArea: a, scales: {x, y}} = chart;
    ctx.save();
    ctx.strokeStyle = '#000'; ctx.lineWidth = 1;
    ctx.strokeRect(a.left + 0.5, a.top + 0.5, a.right - a.left - 1, a.bottom - a.top - 1);
    ctx.fillStyle = '#a8a8a8'; ctx.fillRect(0, 0, 3840, 2);
    ctx.fillStyle = '#e0e0e0'; ctx.fillRect(0, 1993, 3840, 3); ctx.fillRect(3838, 0, 2, 1996);
    const mx = x.getPixelForValue(n);
    ctx.fillStyle = '#a0a0a0';
    ctx.beginPath(); ctx.moveTo(mx - 7, 2); ctx.lineTo(mx + 7, 2); ctx.lineTo(mx, 9); ctx.closePath(); ctx.fill();
    ctx.font = AXIS_FONT_SIZE + 'px ' + AXIS_FONT_FAMILY;
    ctx.textAlign = 'left'; ctx.textBaseline = 'middle';
    const lx = a.right + 2, lw = 79, lh = 23, tx = a.right + 12;
    const by = y.getPixelForValue(lastBid);
    ctx.fillStyle = '#000'; ctx.fillRect(lx, Math.round(by - lh / 2), lw, lh);
    levelPrices.forEach((p, i) => {
      const py = y.getPixelForValue(p) + 5;
      ctx.fillStyle = levelColors[i];
      ctx.fillRect(lx, Math.round(py - lh / 2), lw, lh);
      ctx.fillStyle = '#fff';
      ctx.fillText(p.toFixed(2), tx, py + 1);
    });
    ctx.fillStyle = '#000';
    ctx.beginPath(); ctx.moveTo(10, 16); ctx.lineTo(20, 16); ctx.lineTo(15, 22); ctx.closePath(); ctx.fill();
    ctx.textBaseline = 'alphabetic';
    ctx.fillText(headerText, 31, 26);
    ctx.restore();
  }
};

new Chart(document.getElementById('c'), {
  type: 'line',
  data: {datasets},
  options: {
    responsive: false, maintainAspectRatio: false, devicePixelRatio: 1, animation: false, events: [],
    layout: {padding: {top: 6, left: 4, right: 0, bottom: 0}},
    plugins: {legend: {display: false}, tooltip: {enabled: false}, title: {display: false}},
    scales: {
      x: {
        type: 'linear', position: 'bottom', min: X_MIN, max: X_MAX, offset: false,
        afterBuildTicks: s => { s.ticks = timeLabelBars.map(v => ({value: v})); },
        afterFit: s => { s.height = 35; s.paddingLeft = 0; s.paddingRight = 0; s.paddingTop = 0; s.paddingBottom = 0; },
        ticks: {
          autoSkip: false, maxRotation: 0, minRotation: 0, align: 'start', padding: 3, color: '#000',
          font: {family: AXIS_FONT_FAMILY, size: AXIS_FONT_SIZE},
          callback: (v, i) => timeLabels[i]
        },
        grid: {display: true, drawOnChartArea: false, drawTicks: true, tickLength: 4, color: '#000', offset: false},
        border: {display: true, color: '#000', width: 1}
      },
      y: {
        type: 'linear', position: 'right', min: Y_MIN, max: Y_MAX, beginAtZero: false,
        afterBuildTicks: s => { s.ticks = priceTicks.map(v => ({value: v})); },
        afterFit: s => { s.width = 93; s.paddingTop = 0; s.paddingBottom = 0; s.paddingLeft = 0; s.paddingRight = 0; },
        ticks: {
          autoSkip: false, padding: 8, color: '#000',
          font: {family: AXIS_FONT_FAMILY, size: AXIS_FONT_SIZE},
          callback: v => Number(v).toFixed(2)
        },
        grid: {display: true, drawOnChartArea: false, drawTicks: true, tickLength: 4, color: '#000'},
        border: {display: true, color: '#000', width: 1}
      }
    }
  },
  plugins: [mt4Plugin]
});
</script>
</body>
</html>
